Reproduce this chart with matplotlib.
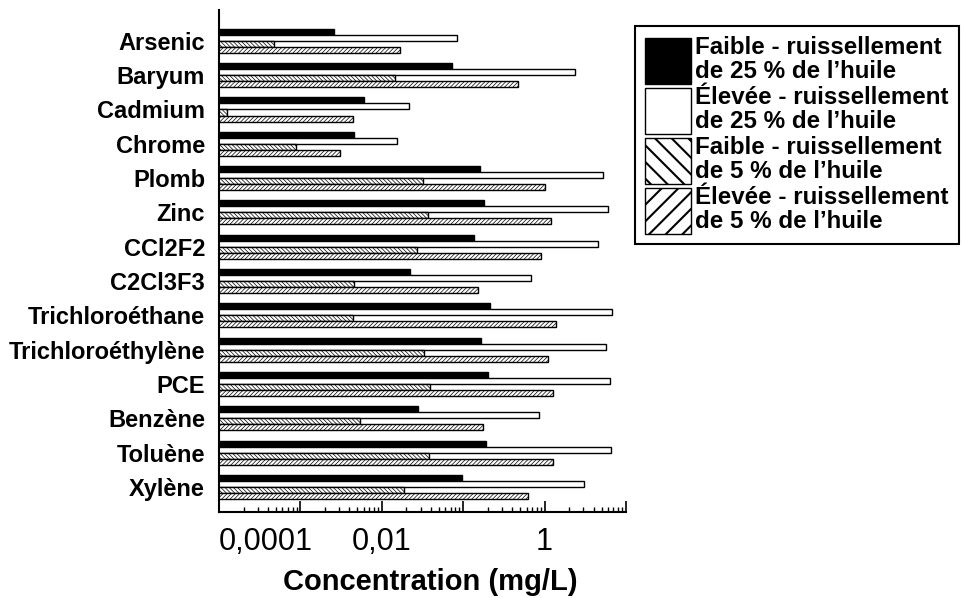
import numpy as np
import matplotlib
matplotlib.use('Agg')
import matplotlib.pyplot as plt
from matplotlib.patches import Patch
from matplotlib.ticker import LogLocator, NullFormatter

plt.rcParams['font.family'] = ['Liberation Sans', 'DejaVu Sans']

# données (mg/L)
substances = ['Arsenic', 'Baryum', 'Cadmium', 'Chrome', 'Plomb', 'Zinc', 'CCl2F2',
              'C2Cl3F3', 'Trichloroéthane', 'Trichloroéthylène', 'PCE', 'Benzène',
              'Toluène', 'Xylène']
faible_25 = [0.0026, 0.072, 0.0061, 0.0046, 0.162, 0.18, 0.134,
             0.0224, 0.211, 0.165, 0.20, 0.0275, 0.192, 0.096]
elevee_25 = [0.084, 2.34, 0.0217, 0.0153, 5.26, 6.06, 4.48,
             0.68, 6.78, 5.67, 6.4, 0.85, 6.53, 3.01]
faible_5 = [0.00048, 0.0145, 0.000125, 0.00088, 0.0317, 0.0365, 0.027,
            0.0045, 0.0044, 0.0333, 0.039, 0.0054, 0.0383, 0.0189]
elevee_5 = [0.0167, 0.474, 0.0044, 0.0031, 1.02, 1.2, 0.90,
            0.15, 1.38, 1.09, 1.27, 0.177, 1.27, 0.63]

labels = ['Faible - ruissellement\nde 25 % de l’huile',
          'Élevée - ruissellement\nde 25 % de l’huile',
          'Faible - ruissellement\nde 5 % de l’huile',
          'Élevée - ruissellement\nde 5 % de l’huile']

fig = plt.figure(figsize=(9.64, 5.98), dpi=100)
ax = fig.add_axes([0.2272, 0.1438, 0.4222, 0.8395])
ax.set_xscale('log', nonpositive='clip')

y = np.arange(len(substances))
h = 0.175
series = [faible_25, elevee_25, faible_5, elevee_5]
styles = [dict(color='black', edgecolor='black', hatch=None),
          dict(color='white', edgecolor='black', hatch=None),
          dict(color='white', edgecolor='black', hatch='\\\\\\\\\\\\\\\\'),
          dict(color='white', edgecolor='black', hatch='////////')]
for k, (vals, st) in enumerate(zip(series, styles)):
    bars = ax.barh(y + (k - 1.5) * h, vals, height=h, linewidth=1.0, **st)
    if st['hatch']:
        for b in bars:
            if hasattr(b, 'set_hatch_linewidth'):
                b.set_hatch_linewidth(0.5)

ax.set_ylim(13.73, -0.9)
ax.set_xlim(1e-4, 10)
ax.set_yticks(y, substances, fontsize=17, fontweight='bold')
ax.tick_params(axis='y', length=0, pad=10)

ax.set_xticks([1e-4, 1e-3, 1e-2, 1e-1, 1, 10], ['0,0001', '', '0,01', '', '1', ''])
ax.xaxis.set_minor_locator(LogLocator(base=10, subs=np.arange(2, 10), numticks=100))
ax.xaxis.set_minor_formatter(NullFormatter())
ax.tick_params(axis='x', which='major', direction='in', length=8, width=1.2,
               labelsize=22, pad=11)
ax.tick_params(axis='x', which='minor', direction='in', length=3.5, width=1.0)
ax.get_xticklabels()[0].set_horizontalalignment('left')
ax.set_xlabel('Concentration (mg/L)', fontsize=21, fontweight='bold', labelpad=8, x=0.518)

for s in ['top', 'right']:
    ax.spines[s].set_visible(False)
for s in ['left', 'bottom']:
    ax.spines[s].set_linewidth(1.5)

handles = [Patch(facecolor='black', edgecolor='black'),
           Patch(facecolor='white', edgecolor='black'),
           Patch(facecolor='white', edgecolor='black', hatch='\\\\'),
           Patch(facecolor='white', edgecolor='black', hatch='//')]
leg = fig.legend(handles, labels, loc='upper left',
                 bbox_to_anchor=(635 / 964, 1 - 26 / 598), borderaxespad=0,
                 fancybox=False, edgecolor='black', framealpha=1,
                 prop={'size': 17.4, 'weight': 'bold'},
                 handlelength=1.9, handleheight=2.6, handletextpad=0.2,
                 labelspacing=0.05, borderpad=0.4)
leg.get_frame().set_linewidth(1.5)
for t in leg.get_texts():
    t.set_linespacing(1.08)
for p in leg.get_patches():
    if hasattr(p, 'set_hatch_linewidth'):
        p.set_hatch_linewidth(1.5)

fig.savefig('out.png', dpi=100)
